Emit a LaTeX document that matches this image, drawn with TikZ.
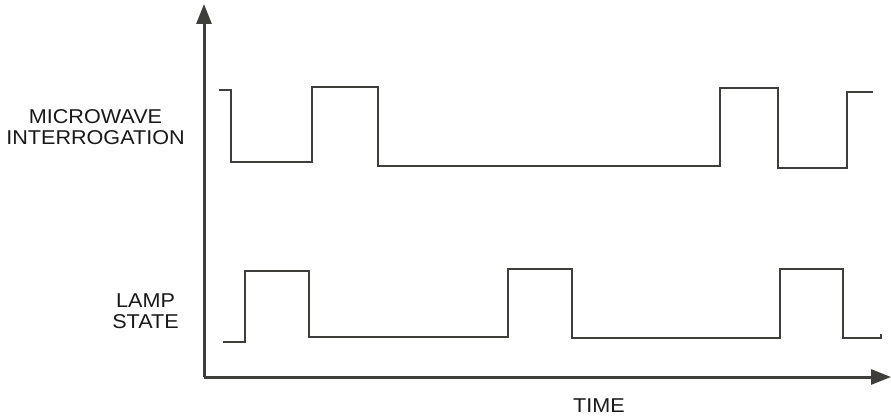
\documentclass[tikz,border=0pt]{standalone}
\usepackage{fontspec}
\setmainfont{Liberation Sans}
\usetikzlibrary{arrows.meta}
\definecolor{ink}{RGB}{62,62,58}
\tikzset{
  axis/.style={draw=ink, line width=3pt, -{Triangle[length=20pt,width=15pt]}},
  wave/.style={draw=ink, line width=2pt, line join=miter},
  lab/.style={text=black!90, font=\fontsize{20}{21}\selectfont, align=center, inner sep=0pt, xscale=1.08, transform shape}
}
\begin{document}
\begin{tikzpicture}[x=1pt,y=-1pt]
\useasboundingbox (0,0) rectangle (891,417);
\coordinate (O) at (204,377);
\coordinate (ytip) at (204,4);
\coordinate (xtip) at (891,377);
\draw[axis] (O) -- (ytip);
\draw[axis] (O) -- (xtip);
% microwave interrogation
\draw[wave] (219,90) -- (231,90) -- (231,162) -- (312,162) -- (312,87) -- (378,87) -- (378,166)
  -- (720,166) -- (720,88) -- (778,88) -- (778,168) -- (847,168) -- (847,92) -- (873,92);
% lamp state
\draw[wave] (223,342) -- (245,342) -- (245,271) -- (309,271) -- (309,337) -- (508,337) -- (508,269)
  -- (572,269) -- (572,338) -- (780,338) -- (780,269) -- (843,269) -- (843,338) -- (881,338) -- (881,334);
\node[lab] (mw) at (95.5,127.5) {MICROWAVE\\INTERROGATION};
\node[lab] (lamp) at (145.5,311.5) {LAMP\\STATE};
\node[lab] (time) at (599,406) {TIME};
\end{tikzpicture}
\end{document}
